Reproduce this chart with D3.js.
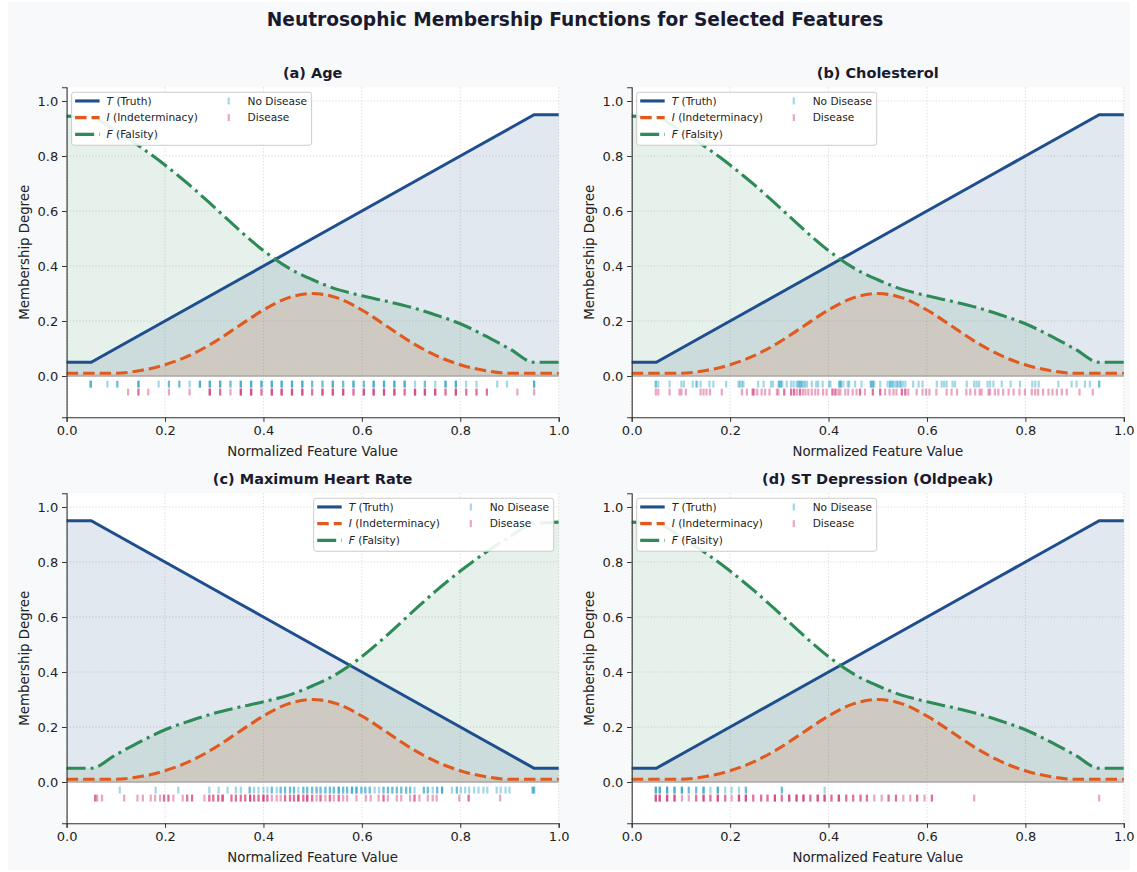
<!DOCTYPE html>
<html><head><meta charset="utf-8">
<script src="https://cdn.jsdelivr.net/npm/d3@7"></script>
<style>
body{margin:0;background:#fff}
svg{display:block}
text{font-family:"DejaVu Sans",sans-serif}
</style>
</head><body>
<svg id="c" width="1137" height="872"></svg>
<script>
// ---------------- data ----------------
const xGrid = [0,0.05,0.1,0.15,0.2,0.25,0.3,0.35,0.4,0.45,0.5,0.55,0.6,0.65,0.7,0.75,0.8,0.85,0.9,0.95,1.0];
const truthUp   = [0.05,0.05,0.10,0.15,0.20,0.25,0.30,0.35,0.40,0.45,0.50,0.55,0.60,0.65,0.70,0.75,0.80,0.85,0.90,0.95,0.95];
const truthDown = [0.95,0.95,0.90,0.85,0.80,0.75,0.70,0.65,0.60,0.55,0.50,0.45,0.40,0.35,0.30,0.25,0.20,0.15,0.10,0.05,0.05];
const indeterminacy = [0.010,0.010,0.010,0.020,0.041,0.075,0.123,0.182,0.240,0.284,0.300,0.284,0.240,0.182,0.123,0.075,0.041,0.020,0.010,0.010,0.010];
const falsityDown = [0.945,0.940,0.891,0.833,0.767,0.694,0.614,0.532,0.456,0.394,0.350,0.315,0.292,0.272,0.250,0.222,0.190,0.147,0.099,0.050,0.050];
const falsityUp   = [0.050,0.050,0.099,0.147,0.190,0.222,0.250,0.272,0.292,0.315,0.350,0.394,0.456,0.532,0.614,0.694,0.767,0.833,0.891,0.940,0.945];

const panelTitles = ["(a) Age","(b) Cholesterol","(c) Maximum Heart Rate","(d) ST Depression (Oldpeak)"];
const xTicks = [0,0.2,0.4,0.6,0.8,1.0];
const yTicks = [0,0.2,0.4,0.6,0.8,1.0];

// rug: [normalized value, number of patients]
const ageNoDisease = [[0.049,3],[0.083,1],[0.103,2],[0.146,3],[0.187,1],[0.208,2],[0.229,2],[0.250,1],[0.271,3],[0.291,3],[0.312,3],[0.333,2],[0.354,3],[0.375,3],[0.396,3],[0.417,3],[0.437,3],[0.458,3],[0.479,3],[0.499,2],[0.520,2],[0.541,3],[0.562,2],[0.583,3],[0.604,2],[0.624,3],[0.645,3],[0.666,3],[0.687,3],[0.708,1],[0.728,2],[0.749,1],[0.770,3],[0.791,3],[0.812,1],[0.833,1],[0.875,1],[0.895,1],[0.950,3]];
const ageDisease = [[0.125,1],[0.146,2],[0.166,1],[0.208,1],[0.250,1],[0.291,3],[0.312,2],[0.333,1],[0.354,3],[0.375,3],[0.396,2],[0.417,3],[0.437,3],[0.458,3],[0.479,3],[0.499,2],[0.520,3],[0.541,3],[0.562,3],[0.583,2],[0.604,3],[0.624,3],[0.645,3],[0.666,3],[0.687,2],[0.708,3],[0.728,3],[0.749,3],[0.770,2],[0.791,3],[0.812,2],[0.833,2],[0.854,2],[0.916,1],[0.950,1]];
const cholNoDisease = [[0.049,2],[0.054,1],[0.077,1],[0.101,1],[0.106,1],[0.124,1],[0.131,1],[0.133,1],[0.140,1],[0.158,1],[0.166,1],[0.192,1],[0.217,1],[0.220,1],[0.224,1],[0.227,1],[0.257,1],[0.268,1],[0.283,1],[0.287,1],[0.299,2],[0.303,2],[0.306,1],[0.315,1],[0.324,1],[0.329,1],[0.335,1],[0.339,2],[0.342,1],[0.345,2],[0.349,1],[0.352,1],[0.356,1],[0.366,1],[0.375,1],[0.379,1],[0.388,1],[0.401,1],[0.404,1],[0.422,2],[0.425,2],[0.430,1],[0.439,1],[0.442,1],[0.454,1],[0.467,1],[0.486,2],[0.490,2],[0.493,1],[0.505,1],[0.520,1],[0.525,2],[0.530,2],[0.535,1],[0.540,2],[0.546,2],[0.551,1],[0.556,1],[0.572,1],[0.583,1],[0.591,1],[0.620,1],[0.630,1],[0.635,1],[0.640,1],[0.652,1],[0.657,1],[0.681,1],[0.696,1],[0.701,1],[0.706,1],[0.723,1],[0.728,1],[0.735,1],[0.752,1],[0.770,1],[0.789,1],[0.814,1],[0.820,1],[0.827,1],[0.867,1],[0.894,1],[0.904,1],[0.921,1],[0.931,1],[0.950,2]];
const cholDisease = [[0.049,1],[0.054,1],[0.077,1],[0.097,1],[0.101,1],[0.110,1],[0.140,1],[0.146,1],[0.152,1],[0.159,1],[0.183,1],[0.224,1],[0.234,1],[0.246,2],[0.249,1],[0.255,1],[0.264,1],[0.271,1],[0.280,1],[0.295,1],[0.298,1],[0.310,2],[0.324,2],[0.330,2],[0.336,1],[0.342,2],[0.348,1],[0.353,1],[0.359,1],[0.366,1],[0.373,1],[0.379,1],[0.389,1],[0.396,1],[0.408,2],[0.414,2],[0.420,1],[0.424,1],[0.434,1],[0.440,1],[0.449,1],[0.457,1],[0.464,2],[0.474,1],[0.490,2],[0.505,2],[0.515,1],[0.524,1],[0.532,1],[0.538,1],[0.549,2],[0.556,2],[0.562,1],[0.579,1],[0.591,1],[0.598,1],[0.605,1],[0.619,1],[0.640,1],[0.650,1],[0.661,1],[0.680,1],[0.688,1],[0.698,1],[0.707,1],[0.711,1],[0.725,1],[0.728,1],[0.738,1],[0.745,1],[0.755,1],[0.766,1],[0.776,1],[0.788,1],[0.799,1],[0.813,1],[0.820,1],[0.826,1],[0.836,1],[0.847,1],[0.855,1],[0.864,1],[0.874,1],[0.884,1],[0.910,1],[0.937,1]];
const hrNoDisease = [[0.108,1],[0.181,1],[0.227,1],[0.290,1],[0.309,1],[0.327,1],[0.344,1],[0.354,1],[0.372,2],[0.381,1],[0.390,1],[0.400,1],[0.408,1],[0.417,2],[0.427,1],[0.435,2],[0.444,2],[0.454,2],[0.462,2],[0.471,1],[0.481,2],[0.489,2],[0.499,2],[0.508,2],[0.516,2],[0.526,2],[0.535,2],[0.543,2],[0.553,3],[0.562,2],[0.570,2],[0.580,3],[0.589,3],[0.599,2],[0.607,2],[0.616,2],[0.626,1],[0.635,1],[0.644,2],[0.653,2],[0.662,2],[0.671,2],[0.680,2],[0.690,2],[0.698,2],[0.707,1],[0.726,2],[0.734,2],[0.744,1],[0.753,2],[0.763,3],[0.783,1],[0.793,2],[0.801,1],[0.810,1],[0.818,1],[0.828,1],[0.837,1],[0.847,1],[0.855,1],[0.874,1],[0.882,1],[0.892,1],[0.900,1],[0.947,2],[0.950,2]];
const hrDisease = [[0.058,2],[0.062,1],[0.072,1],[0.117,1],[0.144,1],[0.155,1],[0.171,1],[0.180,1],[0.190,1],[0.198,2],[0.207,2],[0.217,1],[0.236,1],[0.245,2],[0.255,2],[0.280,1],[0.290,2],[0.298,2],[0.308,2],[0.317,3],[0.335,2],[0.344,2],[0.354,2],[0.363,2],[0.373,3],[0.381,2],[0.390,2],[0.400,3],[0.408,2],[0.417,1],[0.427,1],[0.435,1],[0.444,2],[0.454,2],[0.462,2],[0.471,3],[0.481,2],[0.489,3],[0.499,2],[0.508,1],[0.516,2],[0.526,1],[0.535,2],[0.543,1],[0.553,2],[0.562,1],[0.570,1],[0.589,1],[0.608,1],[0.618,1],[0.634,1],[0.644,2],[0.653,1],[0.671,1],[0.680,1],[0.698,1],[0.707,2],[0.717,1],[0.734,1],[0.744,1],[0.752,1],[0.798,1],[0.817,2],[0.881,1]];
const stNoDisease = [[0.049,3],[0.057,3],[0.072,3],[0.087,3],[0.102,3],[0.116,2],[0.131,2],[0.146,3],[0.160,1],[0.175,3],[0.190,1],[0.203,1],[0.218,1],[0.232,2],[0.305,2],[0.392,1]];
const stDisease = [[0.049,3],[0.057,3],[0.072,3],[0.087,3],[0.102,1],[0.116,1],[0.131,2],[0.146,3],[0.160,2],[0.175,3],[0.190,2],[0.203,1],[0.218,3],[0.232,3],[0.247,2],[0.263,2],[0.276,2],[0.291,3],[0.305,2],[0.320,3],[0.335,3],[0.349,3],[0.363,2],[0.378,3],[0.392,3],[0.406,2],[0.421,3],[0.436,2],[0.450,2],[0.465,2],[0.478,2],[0.493,1],[0.508,1],[0.522,2],[0.537,2],[0.552,1],[0.566,1],[0.580,2],[0.595,1],[0.610,2],[0.696,1],[0.950,1]];

// ---------------- drawing ----------------
const C = {T:"#1f4e8c", I:"#e05a1e", F:"#2e8b57", nd:"#179bc3", d:"#cc1f66", text:"#1a1a2e"};
const svg = d3.select("#c");
svg.append("rect").attr("x",8).attr("y",2).attr("width",1122).attr("height",868).attr("fill","#f8f9fb");

svg.append("text").attr("x",575).attr("y",25.8).attr("text-anchor","middle")
  .attr("font-size",18.6).attr("font-weight","bold").attr("fill",C.text)
  .text("Neutrosophic Membership Functions for Selected Features");

const panels = [
  {left:66.6, top:87.25, truth:truthUp, fals:falsityDown, nd:ageNoDisease, d:ageDisease, leg:"left"},
  {left:631.7, top:87.25, truth:truthUp, fals:falsityDown, nd:cholNoDisease, d:cholDisease, leg:"left"},
  {left:66.6, top:493.25, truth:truthDown, fals:falsityUp, nd:hrNoDisease, d:hrDisease, leg:"right"},
  {left:631.7, top:493.25, truth:truthUp, fals:falsityDown, nd:stNoDisease, d:stDisease, leg:"left"}
];
const PW = 492.1, PH = 330;

panels.forEach((p,i)=>{
  const g = svg.append("g");
  const x = d3.scaleLinear().domain([0,1]).range([p.left, p.left+PW]);
  const y = d3.scaleLinear().domain([-0.15,1.05]).range([p.top+PH, p.top]);
  g.append("rect").attr("x",p.left).attr("y",p.top).attr("width",PW).attr("height",PH).attr("fill","#fff");
  // grid
  g.selectAll(".gx").data(xTicks).enter().append("line")
    .attr("x1",d=>x(d)).attr("x2",d=>x(d)).attr("y1",p.top).attr("y2",p.top+PH)
    .attr("stroke","#cfcfcf").attr("stroke-width",0.8).attr("stroke-dasharray","1.2,2");
  g.selectAll(".gy").data(yTicks).enter().append("line")
    .attr("x1",p.left).attr("x2",p.left+PW).attr("y1",d=>y(d)).attr("y2",d=>y(d))
    .attr("stroke","#cfcfcf").attr("stroke-width",0.8).attr("stroke-dasharray","1.2,2");

  const pts = arr => xGrid.map((xv,k)=>[xv,arr[k]]);
  const area = (curve)=> d3.area().x(d=>x(d[0])).y0(y(0)).y1(d=>y(d[1])).curve(curve);
  const line = (curve)=> d3.line().x(d=>x(d[0])).y(d=>y(d[1])).curve(curve);

  g.append("path").attr("d",area(d3.curveLinear)(pts(p.truth))).attr("fill",C.T).attr("fill-opacity",0.13);
  g.append("path").attr("d",area(d3.curveMonotoneX)(pts(p.fals))).attr("fill",C.F).attr("fill-opacity",0.12);
  g.append("path").attr("d",area(d3.curveMonotoneX)(pts(indeterminacy))).attr("fill",C.I).attr("fill-opacity",0.14);

  // zero line
  g.append("line").attr("x1",p.left).attr("x2",p.left+PW).attr("y1",y(0)).attr("y2",y(0))
    .attr("stroke","#a8a8a8").attr("stroke-width",1.3);

  g.append("path").attr("d",line(d3.curveLinear)(pts(p.truth))).attr("fill","none")
    .attr("stroke",C.T).attr("stroke-width",3.1);
  g.append("path").attr("d",line(d3.curveMonotoneX)(pts(indeterminacy))).attr("fill","none")
    .attr("stroke",C.I).attr("stroke-width",3.1).attr("stroke-dasharray","11.5,5");
  g.append("path").attr("d",line(d3.curveMonotoneX)(pts(p.fals))).attr("fill","none")
    .attr("stroke",C.F).attr("stroke-width",3.1).attr("stroke-dasharray","19,5,3,5");

  // rugs
  const rug = (data,color,yTop,yBot)=>{
    data.forEach(([v,n])=>{
      for(let k=0;k<n;k++){
        g.append("rect").attr("x",x(v)-1.1).attr("width",2.2)
          .attr("y",y(yTop)).attr("height",y(yBot)-y(yTop))
          .attr("fill",color).attr("fill-opacity",0.4);
      }
    });
  };
  rug(p.nd, C.nd, -0.017, -0.042);
  rug(p.d, C.d, -0.046, -0.071);

  // axes
  const xa = g.append("g").attr("transform",`translate(0,${p.top+PH})`)
    .call(d3.axisBottom(x).tickValues(xTicks).tickFormat(d3.format(".1f")).tickSizeOuter(0).tickSize(4.6).tickPadding(3.8));
  const ya = g.append("g").attr("transform",`translate(${p.left},0)`)
    .call(d3.axisLeft(y).tickValues(yTicks).tickFormat(d3.format(".1f")).tickSizeOuter(0).tickSize(4.6).tickPadding(3.8));
  [xa,ya].forEach(a=>{
    a.select(".domain").attr("stroke","#333").attr("stroke-width",1.1);
    a.selectAll(".tick line").attr("stroke","#333").attr("stroke-width",1);
    a.selectAll(".tick text").attr("font-size",13).attr("fill","#222").attr("font-family","DejaVu Sans");
  });

  // titles and labels
  g.append("text").attr("x",p.left+PW/2).attr("y",p.top-9).attr("text-anchor","middle")
    .attr("font-size",14.5).attr("font-weight","bold").attr("fill",C.text).text(panelTitles[i]);
  g.append("text").attr("x",p.left+PW/2).attr("y",p.top+PH+38.5).attr("text-anchor","middle")
    .attr("font-size",13.3).attr("fill","#222").text("Normalized Feature Value");
  g.append("text").attr("transform",`translate(${p.left-38},${p.top+PH/2}) rotate(-90)`).attr("text-anchor","middle")
    .attr("font-size",13.3).attr("fill","#222").text("Membership Degree");

  // legend
  const LW = 240, LH = 53;
  const L = p.leg==="left" ? p.left+5 : p.left+PW-5-LW;
  const T = p.top+5;
  const lg = g.append("g");
  lg.append("rect").attr("x",L).attr("y",T).attr("width",LW).attr("height",LH).attr("rx",2.5)
    .attr("fill","#fff").attr("fill-opacity",0.9).attr("stroke","#cccccc").attr("stroke-width",1);
  const rows = [
    {c:C.T, dash:null, sym:"T", lab:" (Truth)"},
    {c:C.I, dash:"11.5,5", sym:"I", lab:" (Indeterminacy)"},
    {c:C.F, dash:"19,5,3,5", sym:"F", lab:" (Falsity)"}
  ];
  rows.forEach((r,k)=>{
    const yy = T+8.7+k*16.7;
    const ln = lg.append("line").attr("x1",L+3.5).attr("x2",L+28).attr("y1",yy).attr("y2",yy)
      .attr("stroke",r.c).attr("stroke-width",3.1);
    if(r.dash) ln.attr("stroke-dasharray",r.dash);
    const t = lg.append("text").attr("x",L+35).attr("y",yy+3.8).attr("font-size",10.6).attr("fill","#222");
    t.append("tspan").attr("font-style","italic").text(r.sym);
    t.append("tspan").text(r.lab);
  });
  [{c:C.nd,lab:"No Disease"},{c:C.d,lab:"Disease"}].forEach((r,k)=>{
    const yy = T+8.7+k*16.7;
    lg.append("rect").attr("x",L+156).attr("y",yy-3.5).attr("width",2.2).attr("height",7)
      .attr("fill",r.c).attr("fill-opacity",0.4);
    lg.append("text").attr("x",L+176).attr("y",yy+3.8).attr("font-size",10.6).attr("fill","#222").text(r.lab);
  });
});
</script>
</body></html>
